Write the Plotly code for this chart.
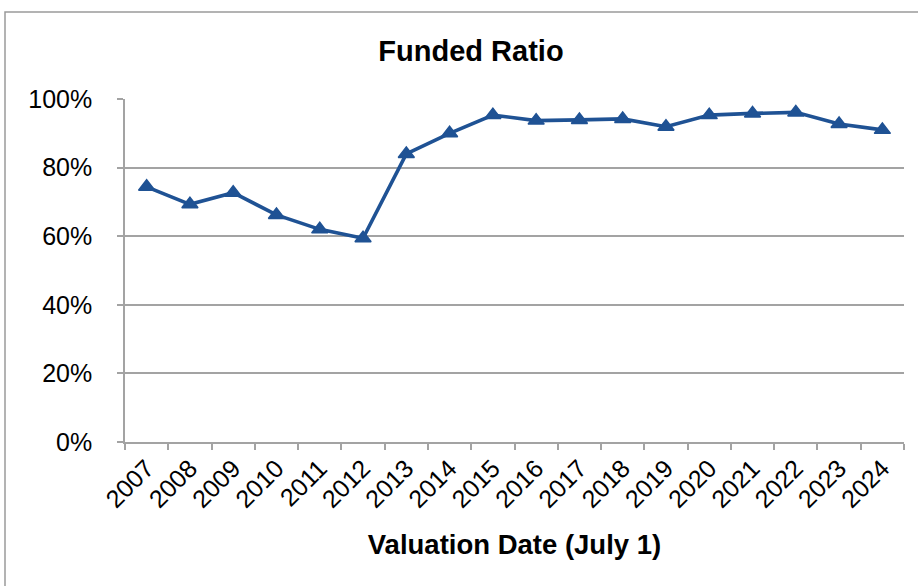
import plotly.graph_objects as go

years = ["2007", "2008", "2009", "2010", "2011", "2012", "2013", "2014", "2015",
         "2016", "2017", "2018", "2019", "2020", "2021", "2022", "2023", "2024"]
funded_ratio = [74.4, 69.3, 72.7, 66.2, 62.0, 59.4, 84.0, 90.0, 95.3,
                93.7, 93.9, 94.2, 91.9, 95.3, 95.8, 96.1, 92.7, 91.0]
y_ticks = [0, 20, 40, 60, 80, 100]
y_tick_labels = ["0%", "20%", "40%", "60%", "80%", "100%"]

FONT = "Liberation Sans, Arial, sans-serif"
GRID = "#a3a3a3"
LINE = "#1F5294"

fig = go.Figure()
fig.add_trace(go.Scatter(
    x=years, y=funded_ratio, mode="lines+markers",
    line=dict(color=LINE, width=3.6),
    marker=dict(symbol="triangle-up", size=14, color=LINE,
                line=dict(color=LINE, width=1.5)),
    showlegend=False, hoverinfo="x+y",
))

W, H = 918, 586
L, R, T, B = 125, 14, 99, 144
pw, ph = W - L - R, H - T - B

def px_x(p):
    return (p - L) / pw

def px_y(p):
    return (H - B - p) / ph

fig.update_layout(
    width=W, height=H,
    margin=dict(l=L, r=R, t=T, b=B, autoexpand=False),
    paper_bgcolor="white", plot_bgcolor="white",
    font=dict(family=FONT, size=25, color="black"),
    title=dict(text="<b>Funded Ratio</b>", x=471 / W, xanchor="center",
               y=1 - 51 / H, yanchor="middle", yref="container",
               font=dict(size=29, family=FONT, color="black")),
    xaxis=dict(
        type="category", range=[-0.5, 17.5], automargin=False,
        tickangle=-45, tickson="boundaries", ticks="outside", ticklen=6,
        tickcolor=GRID, tickwidth=1.5,
        showline=True, linecolor=GRID, linewidth=1.5,
        showgrid=False, zeroline=False,
        tickfont=dict(size=25, family=FONT, color="black"),
        title=dict(text="<b>Valuation Date (July 1)</b>", standoff=23,
                   font=dict(size=27.5, family=FONT, color="black")),
    ),
    yaxis=dict(
        range=[0, 100], tickvals=y_ticks, ticktext=y_tick_labels, automargin=False,
        ticks="outside", ticklen=6, tickcolor=GRID, tickwidth=1.5,
        showline=True, linecolor=GRID, linewidth=1.5,
        showgrid=True, gridcolor=GRID, gridwidth=1.5, zeroline=False,
        ticklabelstandoff=20,
        tickfont=dict(size=25, family=FONT, color="black"),
    ),
    shapes=[dict(type="rect", xref="paper", yref="paper",
                 x0=px_x(5), x1=px_x(940), y0=px_y(600), y1=px_y(12),
                 line=dict(color="#9a9a9a", width=1.5), fillcolor="rgba(0,0,0,0)",
                 layer="below")],
)

fig.write_html("out.html", config={"displayModeBar": False},
               post_script="document.body.style.margin='0';document.body.style.overflow='hidden';")
